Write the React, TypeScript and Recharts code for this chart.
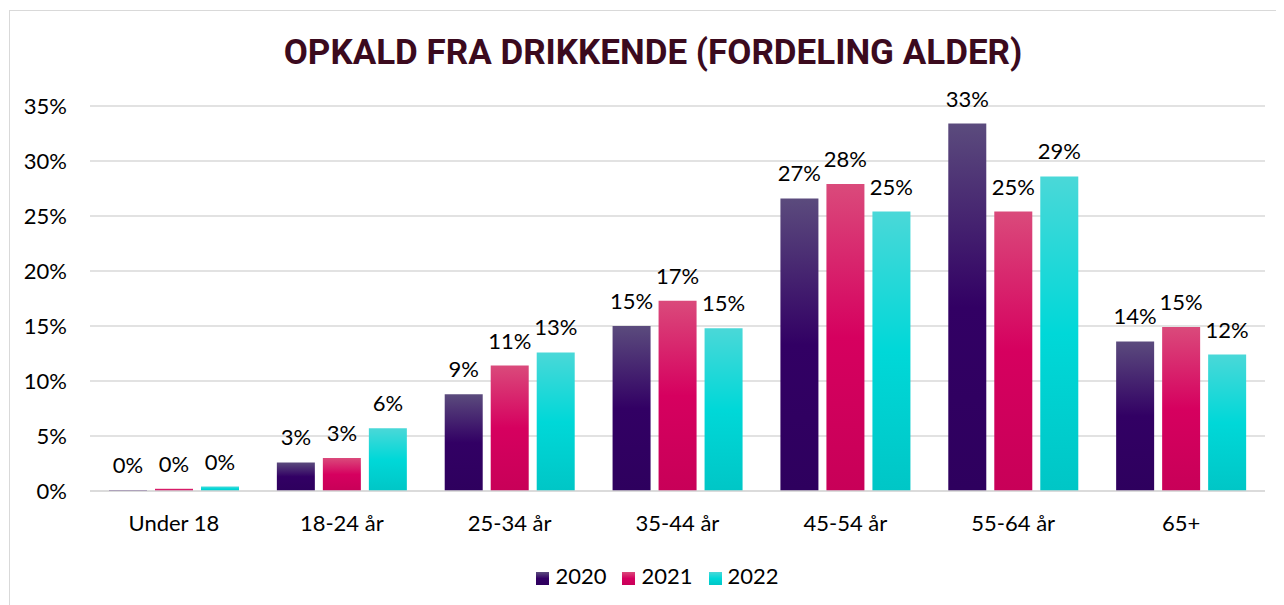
import React from "react";
import {
  BarChart,
  Bar,
  XAxis,
  YAxis,
  CartesianGrid,
  Legend,
  LabelList,
} from "recharts";

const categories = [
  "Under 18",
  "18-24 år",
  "25-34 år",
  "35-44 år",
  "45-54 år",
  "55-64 år",
  "65+",
];
const values2020 = [0.1, 2.6, 8.8, 15.0, 26.6, 33.4, 13.6];
const values2021 = [0.2, 3.0, 11.4, 17.3, 27.9, 25.4, 14.9];
const values2022 = [0.4, 5.7, 12.6, 14.8, 25.4, 28.6, 12.4];
const yTicks = [0, 5, 10, 15, 20, 25, 30, 35];

const series = [
  { key: "2020", top: "#5b4b7d", mid: "#320064", bottom: "#2e005e" },
  { key: "2021", top: "#da4a7b", mid: "#d6005f", bottom: "#c80058" },
  { key: "2022", top: "#4ad8d8", mid: "#00d8d8", bottom: "#00c6c6" },
];

const data = categories.map((name, i) => ({
  name,
  "2020": values2020[i],
  "2021": values2021[i],
  "2022": values2022[i],
}));

const font = "Lato, 'Open Sans', sans-serif";
const pct = (v: any) => `${Math.round(Number(v))}%`;

export default function App() {
  return (
    <div
      style={{
        position: "relative",
        marginLeft: 1,
        marginTop: 2,
        width: 1275,
        height: 595,
        borderLeft: "1px solid #d9d9d9",
        borderTop: "1px solid #d9d9d9",
        overflow: "hidden",
        fontFamily: font,
      }}
    >
      <div
        style={{
          position: "absolute",
          top: 24,
          left: 6,
          width: 1274,
          textAlign: "center",
          fontFamily: "Roboto, sans-serif",
          fontWeight: 700,
          fontSize: 35,
          lineHeight: 1,
          color: "#3b0a1e",
        }}
      >
        OPKALD FRA DRIKKENDE (FORDELING ALDER)
      </div>
      <BarChart
        width={1274}
        height={590}
        data={data}
        margin={{ top: 95, right: 19, left: 0, bottom: 12 }}
        barSize={38}
        barGap={8}
      >
        <defs>
          {series.map((s) => (
            <linearGradient key={s.key} id={`g${s.key}`} x1="0" y1="0" x2="0" y2="1">
              <stop offset="0%" stopColor={s.top} />
              <stop offset="50%" stopColor={s.mid} />
              <stop offset="100%" stopColor={s.bottom} />
            </linearGradient>
          ))}
        </defs>
        <CartesianGrid vertical={false} stroke="#d9d9d9" strokeWidth={1.5} />
        <XAxis
          dataKey="name"
          height={71}
          tickLine={false}
          tickSize={0}
          tickMargin={24}
          axisLine={{ stroke: "#d9d9d9", strokeWidth: 1.5 }}
          tick={{ fill: "#000", fontSize: 22, fontFamily: font }}
        />
        <YAxis
          width={80}
          domain={[0, 35]}
          ticks={yTicks}
          tickFormatter={(v) => `${v}%`}
          axisLine={false}
          tickLine={false}
          tickSize={0}
          tickMargin={23}
          tick={{ fill: "#000", fontSize: 22, fontFamily: font }}
        />
        <Legend
          verticalAlign="bottom"
          iconType="square"
          iconSize={13}
          wrapperStyle={{ fontSize: 22, fontFamily: font, color: "#000", left: 28 }}
          formatter={(v) => (
            <span style={{ color: "#000", marginLeft: 2, marginRight: 6 }}>{v}</span>
          )}
        />
        {series.map((s) => (
          <Bar
            key={s.key}
            dataKey={s.key}
            fill={`url(#g${s.key})`}
            isAnimationActive={false}
          >
            <LabelList
              dataKey={s.key}
              position="top"
              offset={17}
              formatter={pct}
              style={{ fill: "#000", fontSize: 22, fontFamily: font }}
            />
          </Bar>
        ))}
      </BarChart>
    </div>
  );
}
